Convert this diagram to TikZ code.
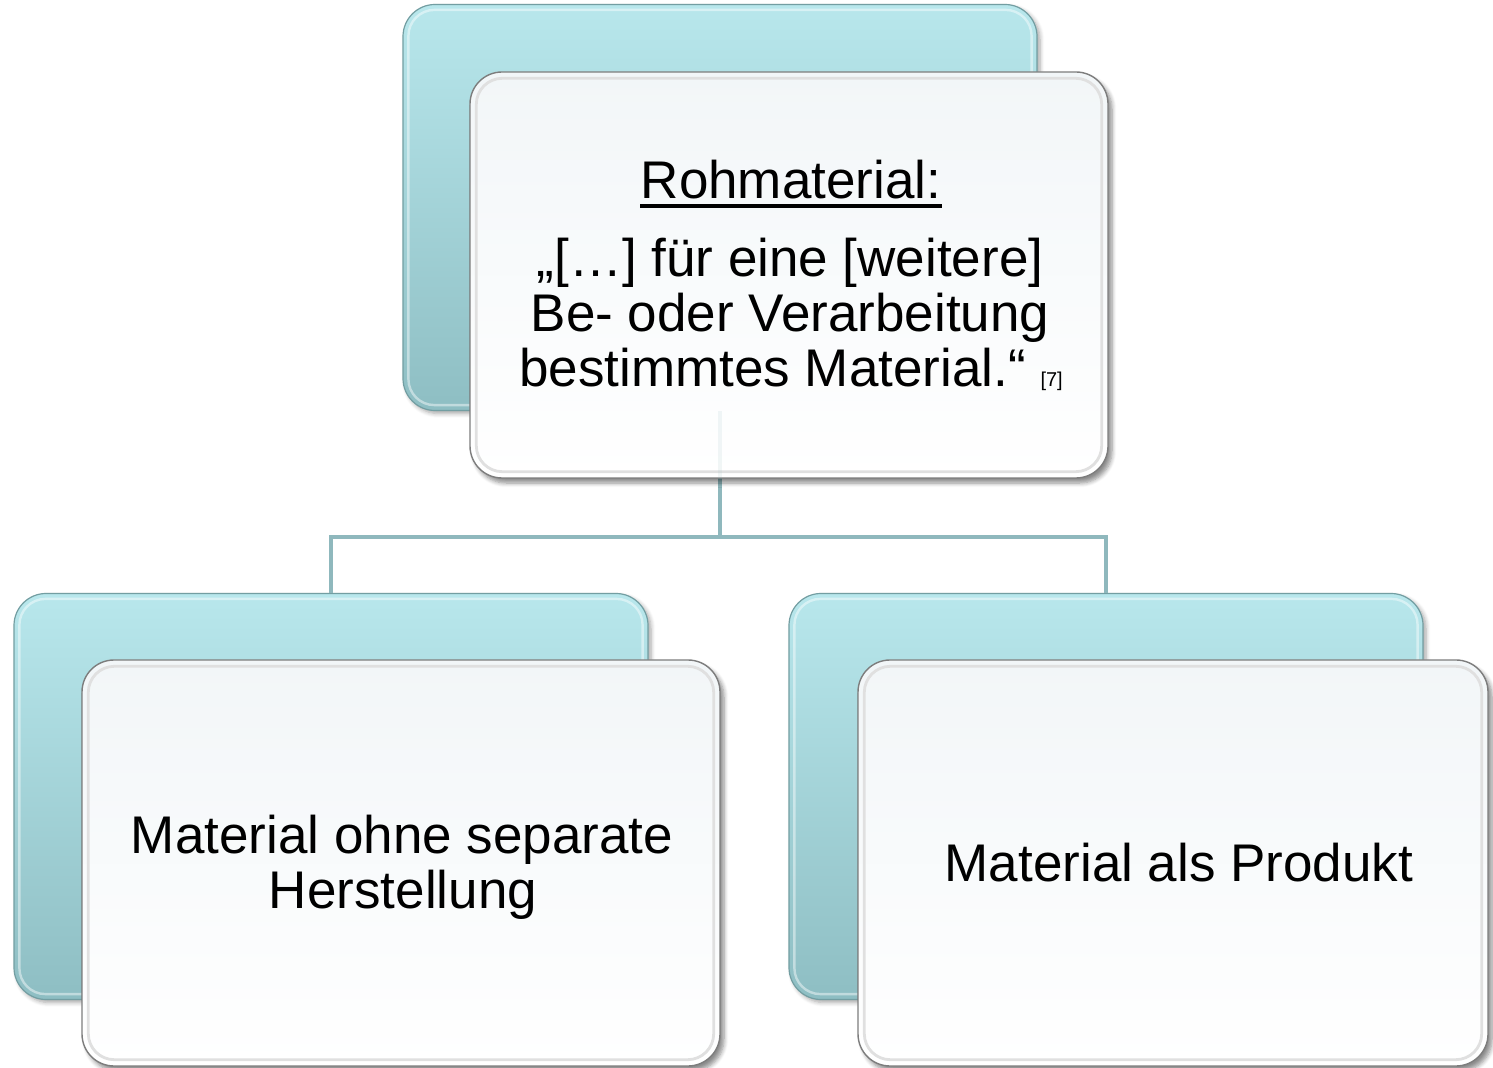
\documentclass[tikz,border=0pt]{standalone}
\usepackage{fontspec}
\setmainfont{Liberation Sans}
\usetikzlibrary{shadows.blur}
\definecolor{backtop}{HTML}{B8E7EC}
\definecolor{backbot}{HTML}{8EBEC3}
\definecolor{backedge}{HTML}{739EA2}
\definecolor{conncol}{HTML}{8FB8BD}
\definecolor{fronttop}{HTML}{F2F6F8}
\definecolor{frontedge}{HTML}{7D7D7D}
\tikzset{
  backbox/.style={rounded corners=16pt, draw=backedge, line width=0.6pt,
    top color=backtop, bottom color=backbot, minimum width=317pt,
    minimum height=203pt, inner sep=0pt,
    blur shadow={shadow xshift=1.5pt, shadow yshift=-1.5pt, shadow opacity=35, shadow blur steps=6}},
  frontbox/.style={rounded corners=16pt, draw=frontedge, line width=0.7pt,
    top color=fronttop, bottom color=white, minimum width=319pt,
    minimum height=203pt, inner sep=0pt,
    blur shadow={shadow xshift=2pt, shadow yshift=-2.5pt, shadow opacity=45, shadow blur steps=6}},
  backbevel/.style={draw=white, draw opacity=0.45, line width=1.2pt, rounded corners=13pt},
  frontbevel/.style={draw=black!12, line width=1.4pt, rounded corners=13pt},
  conn/.style={draw=conncol, line width=2pt},
  bigtext/.style={font=\fontsize{26.5pt}{27.5pt}\selectfont, inner sep=0pt, anchor=base},
}
\begin{document}
\begin{tikzpicture}[x=0.5pt,y=-0.5pt]
\useasboundingbox (0,0) rectangle (1493,1068);
% back boxes
\node[backbox] (tb) at (720,207.5) {};
\node[backbox] (lb) at (331,796.5) {};
\node[backbox] (rb) at (1106,796.5) {};
\foreach \b in {tb,lb,rb}{
  \draw[backbevel] ([shift={(6,6)}]\b.north west) rectangle ([shift={(-6,-6)}]\b.south east);
}
% connectors
\coordinate (hub) at (720,537);
\draw[conn] (tb.south) -- (hub);
\draw[conn] (lb.north) |- (hub) -| (rb.north);
% front boxes
\node[frontbox] (tf) at (789,275) {};
\node[frontbox] (lf) at (401,863) {};
\node[frontbox, minimum width=315pt] (rf) at (1173,863) {};
\foreach \b in {tf,lf,rf}{
  \draw[frontbevel] ([shift={(7,7)}]\b.north west) rectangle ([shift={(-7,-7)}]\b.south east);
}
\draw[conn, draw opacity=0.12] (tb.south) -- (tb.south |- tf.south);
% texts
\node[bigtext] (roh) at (791,199) {Rohmaterial:};
\draw[line width=1.8pt] ([yshift=-3.5pt]roh.base west) -- ([yshift=-3.5pt]roh.base east);
\node[bigtext] (q1) at (790,277) {„[…] für eine [weitere]};
\node[bigtext] (q2) at (790,332) {Be- oder Verarbeitung};
\node[bigtext] (q3) at (791,387) {bestimmtes Material.“ {\fontsize{10pt}{10pt}\selectfont[7]}};
\node[bigtext] (l1) at (402,853) {Material ohne separate};
\node[bigtext] (l2) at (403,908) {Herstellung};
\node[bigtext] (r1) at (1179,881) {Material als Produkt};
\end{tikzpicture}
\end{document}
